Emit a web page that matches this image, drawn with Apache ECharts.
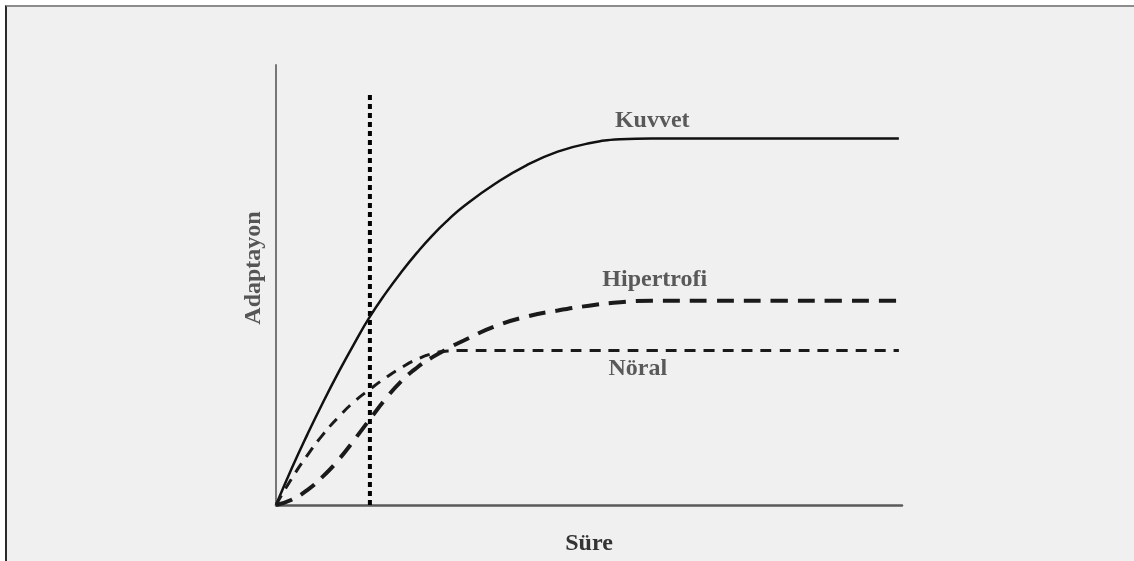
<!DOCTYPE html>
<html>
<head>
<meta charset="utf-8">
<script src="https://cdn.jsdelivr.net/npm/echarts@6/dist/echarts.min.js"></script>
<style>
  html, body { margin: 0; padding: 0; background: #ffffff; }
  #frame { position: absolute; left: 5px; top: 5px; width: 1129px; height: 556px;
           background: #f0f0f0; border-top: 2px solid #8c8c8c; border-left: 2px solid #2a2a2a;
           box-sizing: border-box; z-index: 0; }
  #chart { position: absolute; left: 0; top: 0; width: 1134px; height: 561px; z-index: 1; }
</style>
</head>
<body>
<div id="frame"></div>
<div id="chart"></div>
<script>
// Time (arbitrary units, 0-100) sample points
const sure = [0, 2.5, 5, 7.5, 10, 12.5, 15, 17.5, 20, 22.5, 25, 27.5, 30, 35, 40, 45, 50, 55, 60, 70, 80, 90, 99.5];
// Adaptation values (arbitrary units, 0-100)
const kuvvet     = [0, 8.3, 16.0, 23.3, 30.2, 36.7, 42.8, 48.1, 52.9, 57.3, 61.3, 64.8, 67.9, 73.0, 77.2, 80.3, 82.2, 83.1, 83.3, 83.3, 83.3, 83.3, 83.3];
const hipertrofi = [0, 1.2, 3.4, 6.5, 10.3, 14.8, 19.5, 24.1, 28.1, 31.2, 33.6, 35.6, 37.4, 40.6, 42.8, 44.2, 45.3, 46.1, 46.4, 46.4, 46.4, 46.4, 46.4];
const noral      = [0, 6.0, 11.3, 16.0, 20.0, 23.5, 26.3, 28.9, 31.2, 33.1, 34.4, 35.0, 35.1, 35.1, 35.1, 35.1, 35.1, 35.1, 35.1, 35.1, 35.1, 35.1, 35.1];
// Vertical reference line
const refX = 15;
const refTop = 94.0;
const seriesNames = ['Kuvvet', 'Hipertrofi', 'Nöral'];
const xName = 'Süre';
const yName = 'Adaptayon';

const pairs = arr => sure.map((x, i) => [x, arr[i]]);
const font = '"Liberation Serif", "DejaVu Serif", serif';
const textColor = '#333333';

const chart = echarts.init(document.getElementById('chart'), null, { renderer: 'canvas' });
chart.setOption({
  backgroundColor: 'transparent',
  animation: false,
  grid: { left: 276, right: 232, top: 65, bottom: 54 },
  xAxis: {
    type: 'value', min: 0, max: 100,
    name: xName, nameLocation: 'middle', nameGap: 27,
    nameTextStyle: { fontFamily: font, fontWeight: 'bold', fontSize: 24, color: textColor },
    axisLine: { show: true, onZero: false, lineStyle: { color: '#5a5a5a', width: 2.5 } },
    axisTick: { show: false }, axisLabel: { show: false }, splitLine: { show: false }
  },
  yAxis: {
    type: 'value', min: 0, max: 100,
    axisLine: { show: true, onZero: false, lineStyle: { color: '#777777', width: 2 } },
    axisTick: { show: false }, axisLabel: { show: false }, splitLine: { show: false }
  },
  graphic: [{
    type: 'text', x: 254, y: 268, rotation: Math.PI / 2,
    style: { text: yName, x: 0, y: 0, align: 'center', verticalAlign: 'middle',
             font: 'bold 24px ' + font, fill: '#555555' }
  }],
  series: [
    {
      name: 'ref', type: 'line', data: [[refX, 0], [refX, refTop]], symbol: 'none',
      lineStyle: { color: '#000', width: 4, type: [5, 4] }, z: 3
    },
    {
      name: seriesNames[0], type: 'line', data: pairs(kuvvet), smooth: 0.5,
      symbol: 'none', lineStyle: { color: '#111', width: 2.5 }, z: 4
    },
    {
      name: seriesNames[1], type: 'line', data: pairs(hipertrofi), smooth: 0.5,
      symbol: 'none', lineStyle: { color: '#1a1a1a', width: 4, type: [17, 10] }, z: 4
    },
    {
      name: seriesNames[2], type: 'line', data: pairs(noral), smooth: 0.5,
      symbol: 'none', lineStyle: { color: '#1a1a1a', width: 3, type: [11, 8] }, z: 4
    },
    {
      name: 'labels', type: 'scatter', symbolSize: 0, silent: true,
      data: [[60.1, 87.4, seriesNames[0]], [60.5, 51.2, seriesNames[1]], [57.8, 31.0, seriesNames[2]]],
      label: {
        show: true, position: 'inside', formatter: p => p.value[2],
        fontFamily: font, fontWeight: 'bold', fontSize: 24, color: textColor
      }
    }
  ]
});
</script>
</body>
</html>
